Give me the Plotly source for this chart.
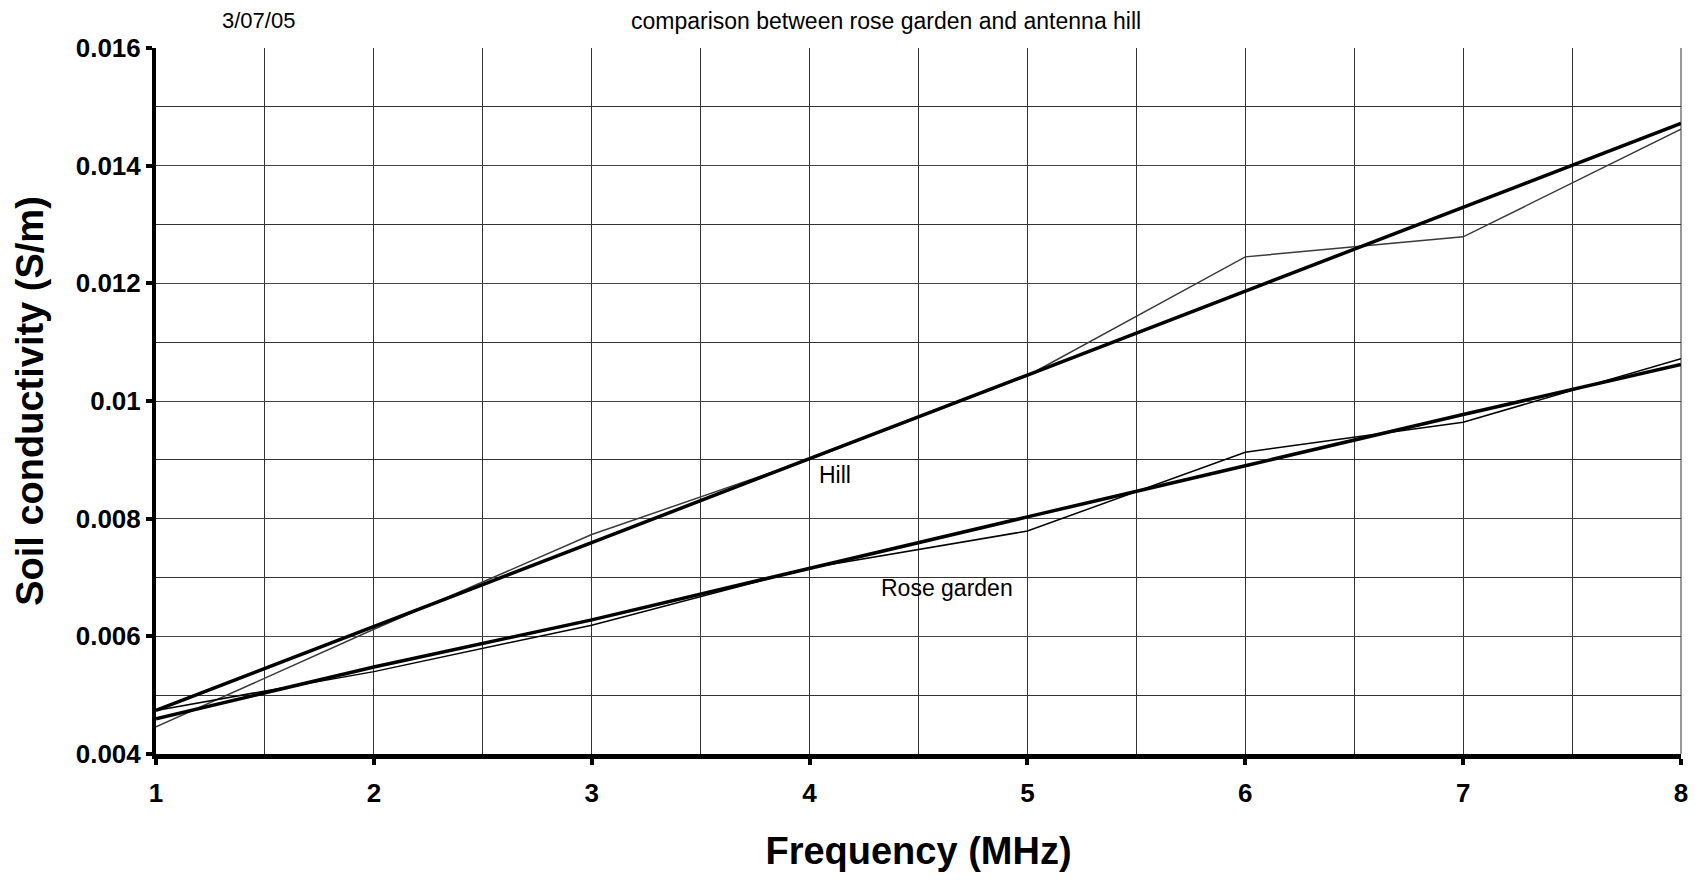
import plotly.graph_objects as go

freq_mhz = [1, 2, 3, 4, 5, 6, 7, 8]
hill_measured = [0.00446, 0.00612, 0.00773, 0.00901, 0.01043, 0.01245, 0.01279, 0.01462]
rose_measured = [0.00474, 0.00540, 0.00619, 0.00716, 0.00779, 0.00913, 0.00964, 0.01072]
hill_trend = [0.00474, 0.00617, 0.00759, 0.00902, 0.01044, 0.01187, 0.01329, 0.01472]
rose_trend = [0.00460, 0.00548, 0.00628, 0.00716, 0.00803, 0.00890, 0.00977, 0.01062]

y_tick_vals = [0.004, 0.006, 0.008, 0.010, 0.012, 0.014, 0.016]
y_tick_text = ["0.004", "0.006", "0.008", "0.01", "0.012", "0.014", "0.016"]
x_tick_vals = [1, 2, 3, 4, 5, 6, 7, 8]
x_tick_text = ["1", "2", "3", "4", "5", "6", "7", "8"]

fig = go.Figure()
fig.add_trace(go.Scatter(x=freq_mhz, y=hill_measured, mode="lines", name="Hill (measured)",
                         line=dict(color="#3a3a3a", width=1.5)))
fig.add_trace(go.Scatter(x=freq_mhz, y=rose_measured, mode="lines", name="Rose garden (measured)",
                         line=dict(color="#000000", width=1.5)))
fig.add_trace(go.Scatter(x=freq_mhz, y=hill_trend, mode="lines", name="Hill (trend)",
                         line=dict(color="#000000", width=3.5)))
fig.add_trace(go.Scatter(x=freq_mhz, y=rose_trend, mode="lines", name="Rose garden (trend)",
                         line=dict(color="#000000", width=3.5)))

font_main = "Liberation Sans, Arial, sans-serif"

fig.update_layout(
    width=1689, height=864,
    margin=dict(l=148, r=16, t=40, b=118, autoexpand=False),
    paper_bgcolor="white", plot_bgcolor="white",
    showlegend=False,
    font=dict(family=font_main, color="black"),
    annotations=[
        dict(text="3/07/05", xref="paper", yref="paper", x=0.0674, y=1.0383,
             showarrow=False, font=dict(size=22, family=font_main), xanchor="center", yanchor="middle",
             borderpad=0),
        dict(text="comparison between rose garden and antenna hill", xref="paper", yref="paper",
             x=0.479, y=1.0383, showarrow=False, font=dict(size=23, family=font_main),
             xanchor="center", yanchor="middle", borderpad=0),
        dict(text="Hill", x=4.035, y=0.00874, xref="x", yref="y", showarrow=False,
             font=dict(size=23, family=font_main), xanchor="left", yanchor="middle"),
        dict(text="Rose garden", x=4.319, y=0.00682, xref="x", yref="y", showarrow=False,
             font=dict(size=23, family=font_main), xanchor="left", yanchor="middle"),
    ],
)

fig.update_xaxes(
    range=[1, 8], tickvals=x_tick_vals, ticktext=x_tick_text,
    showline=True, linecolor="black", linewidth=5,
    ticks="outside", ticklen=6, tickwidth=4, tickcolor="black",
    tickfont=dict(size=26, family=font_main, weight="bold"),
    ticklabelstandoff=6,
    showgrid=True, gridcolor="#333333", gridwidth=1,
    minor=dict(dtick=0.5, showgrid=True, gridcolor="#333333", gridwidth=1, ticks=""),
    zeroline=False, mirror=False,
    title=dict(text="<b>Frequency (MHz)</b>", font=dict(size=38, family=font_main), standoff=45),
)
fig.update_yaxes(
    range=[0.004, 0.016], tickvals=y_tick_vals, ticktext=y_tick_text,
    showline=True, linecolor="black", linewidth=4,
    ticks="outside", ticklen=6, tickwidth=4, tickcolor="black",
    tickfont=dict(size=26, family=font_main, weight="bold"),
    showgrid=True, gridcolor="#444444", gridwidth=1,
    minor=dict(dtick=0.001, showgrid=True, gridcolor="#333333", gridwidth=1, ticks=""),
    zeroline=False,
    title=dict(text="<b>Soil conductivity (S/m)</b>", font=dict(size=38, family=font_main), standoff=21),
)

# right border gridline at x=8
fig.add_shape(type="line", xref="paper", yref="paper", x0=1, x1=1, y0=0, y1=1,
              line=dict(color="#333333", width=1), layer="below")

fig.write_html("out.html")
